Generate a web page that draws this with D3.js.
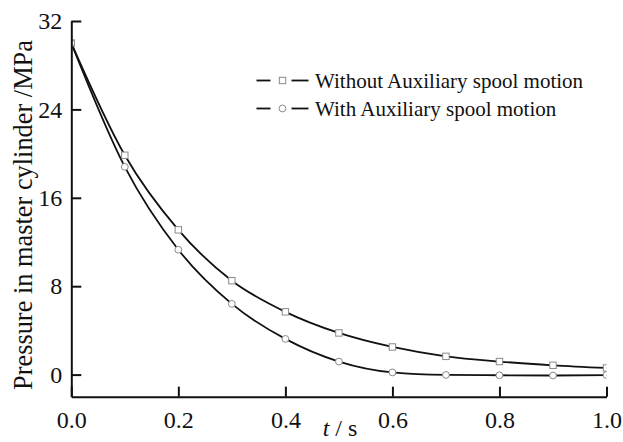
<!DOCTYPE html>
<html>
<head>
<meta charset="utf-8">
<script src="https://cdn.jsdelivr.net/npm/d3@7"></script>
<style>
  html, body { margin: 0; padding: 0; background: #fff; }
  svg { display: block; }
</style>
</head>
<body>
<svg id="chart" width="623" height="442"></svg>
<script>
// Time samples (s)
const times = [0.0, 0.1, 0.2, 0.3, 0.4, 0.5, 0.6, 0.7, 0.8, 0.9, 1.0];
// Master cylinder pressure (MPa)
const withoutAux = [30.0, 19.85, 13.1, 8.5, 5.68, 3.77, 2.5, 1.65, 1.18, 0.84, 0.6];
const withAux    = [30.0, 18.8, 11.3, 6.4, 3.23, 1.18, 0.2, -0.03, -0.06, -0.08, -0.04];

const seriesNames = ["Without Auxiliary spool motion", "With Auxiliary spool motion"];
const yTicks = [0, 8, 16, 24, 32];
const xTicks = [0.0, 0.2, 0.4, 0.6, 0.8, 1.0];

const FONT = "Liberation Serif, Times New Roman, serif";

const svg = d3.select("#chart");
const m = { left: 71.3, right: 606.5, top: 21, bottom: 396.7 };

const x = d3.scaleLinear().domain([0, 1]).range([m.left, m.right]);
const y = d3.scaleLinear().domain([-2, 32]).range([m.bottom, m.top]);

// clip region for the plotted curves and markers
svg.append("defs").append("clipPath").attr("id", "plotClip")
  .append("rect")
  .attr("x", m.left).attr("y", m.top)
  .attr("width", m.right - m.left).attr("height", m.bottom - m.top);

const plot = svg.append("g").attr("clip-path", "url(#plotClip)");

const line = d3.line()
  .x((d, i) => x(times[i]))
  .y(d => y(d))
  .curve(d3.curveMonotoneX);

const series = [
  { name: seriesNames[0], values: withoutAux, symbol: "square" },
  { name: seriesNames[1], values: withAux, symbol: "circle" }
];

series.forEach(s => {
  plot.append("path")
    .datum(s.values)
    .attr("d", line)
    .attr("fill", "none")
    .attr("stroke", "#111")
    .attr("stroke-width", 1.8);
});

function drawMarker(g, cx, cy, symbol) {
  if (symbol === "square") {
    g.append("rect")
      .attr("x", cx - 3.2).attr("y", cy - 3.2)
      .attr("width", 6.4).attr("height", 6.4)
      .attr("fill", "#fff").attr("stroke", "#8a8a8a").attr("stroke-width", 1);
  } else {
    g.append("circle")
      .attr("cx", cx).attr("cy", cy).attr("r", 3.4)
      .attr("fill", "#fff").attr("stroke", "#8a8a8a").attr("stroke-width", 1);
  }
}

series.forEach(s => {
  s.values.forEach((v, i) => drawMarker(plot, x(times[i]), y(v), s.symbol));
});

// axes with inward ticks
const xAxis = svg.append("g")
  .attr("transform", `translate(0,${m.bottom})`)
  .call(d3.axisBottom(x).tickValues(xTicks).tickFormat(d3.format(".1f"))
    .tickSizeInner(-10).tickSizeOuter(0).tickPadding(14));
const yAxis = svg.append("g")
  .attr("transform", `translate(${m.left},0)`)
  .call(d3.axisLeft(y).tickValues(yTicks).tickFormat(d3.format("d"))
    .tickSizeInner(-10).tickSizeOuter(0).tickPadding(9));

[xAxis, yAxis].forEach(a => {
  a.attr("font-family", null).attr("font-size", null);
  a.selectAll(".domain").attr("stroke", "#111").attr("stroke-width", 2);
  a.selectAll(".tick line").attr("stroke", "#111").attr("stroke-width", 2);
  a.selectAll(".tick text").attr("fill", "#111")
    .style("font-family", FONT).style("font-size", "24px");
});
xAxis.selectAll(".tick text").attr("dy", "0.71em");

// axis titles
svg.append("text")
  .attr("transform", "translate(31.5,215) rotate(-90)")
  .attr("text-anchor", "middle")
  .attr("fill", "#111")
  .style("font-family", FONT)
  .style("font-size", "27px")
  .attr("textLength", 350)
  .attr("lengthAdjust", "spacingAndGlyphs")
  .text("Pressure in master cylinder /MPa");

const xt = svg.append("text")
  .attr("x", 340).attr("y", 436)
  .attr("text-anchor", "middle")
  .attr("fill", "#111")
  .style("font-family", FONT)
  .style("font-size", "24px");
xt.append("tspan").style("font-style", "italic").text("t");
xt.append("tspan").text(" / s");

// legend
const legend = svg.append("g");
const legendRows = [80.5, 108.5];
series.forEach((s, i) => {
  const ly = legendRows[i];
  legend.append("line").attr("x1", 256.5).attr("x2", 270.5).attr("y1", ly).attr("y2", ly)
    .attr("stroke", "#111").attr("stroke-width", 1.8);
  legend.append("line").attr("x1", 291.5).attr("x2", 308.5).attr("y1", ly).attr("y2", ly)
    .attr("stroke", "#111").attr("stroke-width", 1.8);
  drawMarker(legend, 282.5, ly, s.symbol);
  legend.append("text")
    .attr("x", 315).attr("y", ly + 7)
    .attr("fill", "#111")
    .style("font-family", FONT)
    .style("font-size", "21px")
    .text(s.name);
});
</script>
</body>
</html>
